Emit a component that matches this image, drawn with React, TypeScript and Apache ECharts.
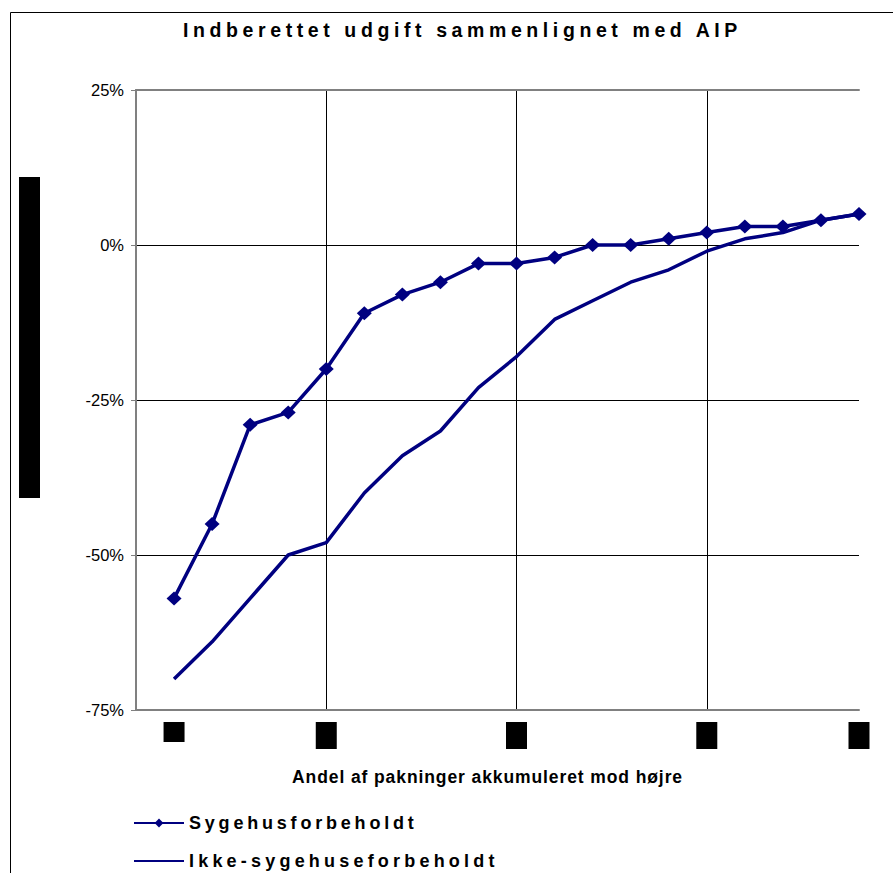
import React, { useEffect, useRef } from "react";
import * as echarts from "echarts";

// Cumulative share of packages (position along the x axis)
const positions = [1, 2, 3, 4, 5, 6, 7, 8, 9, 10, 11, 12, 13, 14, 15, 16, 17, 18, 19];

// Reported expense compared with AIP, in percent
const sygehusforbeholdt = [-57, -45, -29, -27, -20, -11, -8, -6, -3, -3, -2, 0, 0, 1, 2, 3, 3, 4, 5];
const ikkeSygehuseforbeholdt = [-70, -64, -57, -50, -48, -40, -34, -30, -23, -18, -12, -9, -6, -4, -1, 1, 2, 4, 5];

// Positions where the (blacked-out) x tick labels sit
const xLabelPositions = [1, 5, 10, 15, 19];

const TITLE = "Indberettet udgift sammenlignet med AIP";
const X_NAME = "Andel af pakninger akkumuleret mod højre";
const NAME_A = "Sygehusforbeholdt";
const NAME_B = "Ikke-sygehuseforbeholdt";

const FONT = "'Liberation Sans', Arial, Helvetica, sans-serif";
const NAVY = "#000080";
const AXIS_GREY = "#808080";

// Wide tracking of the bold captions
const SPACING: Record<string, number> = {
  [TITLE]: 4.6,
  [X_NAME]: 0.9,
  [NAME_A]: 3.8,
  [NAME_B]: 4.2,
};

function applySpacing(root: HTMLElement | null) {
  if (!root) return;
  root.querySelectorAll("text").forEach((el) => {
    const s = SPACING[(el.textContent || "").trim()];
    if (s != null) el.setAttribute("letter-spacing", String(s));
  });
}

export default function App() {
  const ref = useRef<HTMLDivElement>(null);

  useEffect(() => {
    if (!ref.current) return;
    const chart = echarts.init(ref.current, undefined, { renderer: "svg" });
    const el = ref.current;
    chart.on("finished", () => applySpacing(el));

    const pairs = (vals: number[]) => positions.map((p, i) => [p, vals[i]]);

    chart.setOption({
      animation: false,
      backgroundColor: "#ffffff",
      textStyle: { fontFamily: FONT },
      title: {
        text: TITLE,
        left: 183,
        top: 20,
        padding: 0,
        textStyle: { fontFamily: FONT, fontSize: 19.5, fontWeight: "bold", color: "#000" },
      },
      legend: {
        orient: "vertical",
        left: 133,
        top: 814,
        itemWidth: 50,
        itemHeight: 11,
        itemGap: 20,
        padding: 0,
        data: [NAME_A, NAME_B],
        textStyle: { fontFamily: FONT, fontSize: 18, fontWeight: "bold", color: "#000" },
      },
      grid: { left: 136, right: 34, top: 90, bottom: 163, containLabel: false },
      xAxis: [
        {
          type: "value",
          min: 0,
          max: 19,
          interval: 5,
          name: X_NAME,
          nameLocation: "middle",
          nameGap: 58,
          nameTextStyle: {
            fontFamily: FONT,
            fontSize: 17.5,
            fontWeight: "bold",
            color: "#000",
            padding: [0, 20, 0, 0],
          },
          axisLine: { show: true, onZero: false, lineStyle: { color: AXIS_GREY, width: 2 } },
          axisTick: { show: false },
          axisLabel: {
            show: true,
            margin: 12,
            customValues: xLabelPositions,
            formatter: (v: number) => (v === xLabelPositions[0] ? "{s| }" : "{t| }"),
            rich: {
              s: { width: 21, height: 20, backgroundColor: "#000", verticalAlign: "top" },
              t: { width: 21, height: 27, backgroundColor: "#000", verticalAlign: "top" },
            },
            verticalAlign: "top",
          },
          splitLine: {
            show: true,
            showMinLine: false,
            showMaxLine: false,
            lineStyle: { color: "#000", width: 1 },
          },
        },
        {
          type: "value",
          position: "top",
          min: 0,
          max: 19,
          axisLine: { show: true, onZero: false, lineStyle: { color: AXIS_GREY, width: 2 } },
          axisTick: { show: false },
          axisLabel: { show: false },
          splitLine: { show: false },
        },
      ],
      yAxis: {
        type: "value",
        min: -75,
        max: 25,
        interval: 25,
        axisLine: { show: true, onZero: false, lineStyle: { color: AXIS_GREY, width: 2 } },
        axisTick: { show: true, inside: false, length: 5, lineStyle: { color: AXIS_GREY, width: 1 } },
        axisLabel: {
          formatter: "{value}%",
          margin: 12,
          fontFamily: FONT,
          fontSize: 16.5,
          color: "#000",
        },
        splitLine: {
          show: true,
          showMinLine: false,
          showMaxLine: false,
          lineStyle: { color: "#000", width: 1 },
        },
      },
      graphic: [
        {
          type: "polyline",
          silent: true,
          shape: { points: [[10.5, 900], [10.5, 12.5], [900, 12.5]] },
          style: { stroke: "#000", lineWidth: 1, fill: "none" },
        },
        {
          type: "rect",
          silent: true,
          shape: { x: 19, y: 177, width: 21, height: 321 },
          style: { fill: "#000" },
        },
      ],
      series: [
        {
          name: NAME_A,
          type: "line",
          data: pairs(sygehusforbeholdt),
          symbol: "diamond",
          symbolSize: [15, 14],
          showSymbol: true,
          lineStyle: { color: NAVY, width: 3.5 },
          itemStyle: { color: NAVY },
          z: 3,
        },
        {
          name: NAME_B,
          type: "line",
          data: pairs(ikkeSygehuseforbeholdt),
          // plain line: the "line" symbol is never shown on the plot and
          // merges into the legend stroke
          symbol: "line",
          showSymbol: false,
          lineStyle: { color: NAVY, width: 3.5 },
          itemStyle: { color: NAVY },
          z: 2,
        },
      ],
    });

    applySpacing(el);
    const t = window.setTimeout(() => applySpacing(el), 50);

    return () => {
      window.clearTimeout(t);
      chart.dispose();
    };
  }, []);

  return (
    <div
      ref={ref}
      style={{ position: "fixed", left: 0, top: 0, width: 893, height: 873, background: "#fff" }}
    />
  );
}
